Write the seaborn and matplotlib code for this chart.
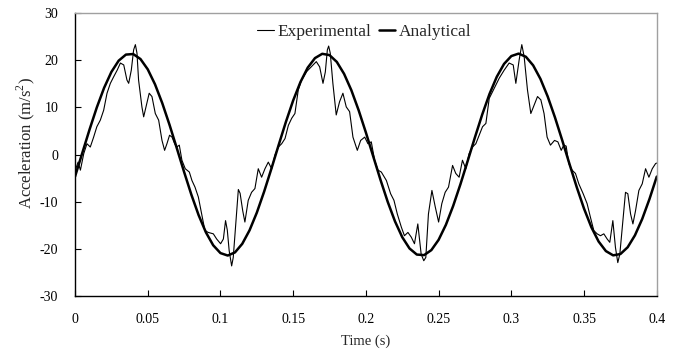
import matplotlib
matplotlib.use("Agg")
import matplotlib.pyplot as plt
import seaborn as sns
import pandas as pd

# Experimental signal
exp_t = [0.0000, 0.0021, 0.0037, 0.0060, 0.0082, 0.0105, 0.0128, 0.0150, 0.0174, 0.0197,
         0.0220, 0.0243, 0.0266, 0.0290, 0.0312, 0.0335, 0.0357, 0.0369, 0.0387, 0.0403,
         0.0415, 0.0426, 0.0437, 0.0460, 0.0472, 0.0488, 0.0510, 0.0529, 0.0552, 0.0575,
         0.0598, 0.0616, 0.0632, 0.0650, 0.0667, 0.0685, 0.0700, 0.0717, 0.0735, 0.0758,
         0.0786, 0.0804, 0.0825, 0.0848, 0.0871, 0.0893, 0.0916, 0.0951, 0.0974, 0.1001,
         0.1020, 0.1035, 0.1047, 0.1060, 0.1077, 0.1088, 0.1107, 0.1123, 0.1135, 0.1153,
         0.1168, 0.1191, 0.1214, 0.1237, 0.1260, 0.1283, 0.1306, 0.1329, 0.1352, 0.1375,
         0.1398, 0.1421, 0.1444, 0.1467, 0.1490, 0.1512, 0.1535, 0.1558, 0.1593, 0.1624,
         0.1659, 0.1682, 0.1705, 0.1721, 0.1735, 0.1744, 0.1755, 0.1773, 0.1796, 0.1819,
         0.1842, 0.1865, 0.1888, 0.1911, 0.1941, 0.1964, 0.1992, 0.2014, 0.2037, 0.2060,
         0.2083, 0.2106, 0.2141, 0.2170, 0.2193, 0.2216, 0.2244, 0.2265, 0.2289, 0.2312,
         0.2334, 0.2357, 0.2380, 0.2398, 0.2412, 0.2430, 0.2454, 0.2477, 0.2500, 0.2522,
         0.2545, 0.2568, 0.2596, 0.2618, 0.2641, 0.2664, 0.2687, 0.2710, 0.2733, 0.2756,
         0.2779, 0.2802, 0.2825, 0.2848, 0.2882, 0.2917, 0.2951, 0.2985, 0.3013, 0.3031,
         0.3054, 0.3072, 0.3088, 0.3111, 0.3134, 0.3157, 0.3180, 0.3203, 0.3225, 0.3246,
         0.3269, 0.3297, 0.3320, 0.3343, 0.3361, 0.3377, 0.3395, 0.3418, 0.3441, 0.3464,
         0.3494, 0.3521, 0.3544, 0.3567, 0.3590, 0.3613, 0.3636, 0.3659, 0.3677, 0.3698,
         0.3716, 0.3732, 0.3746, 0.3767, 0.3785, 0.3801, 0.3820, 0.3836, 0.3854, 0.3877,
         0.3900, 0.3923, 0.3946, 0.3969, 0.3992, 0.4000]
exp_a = [-3.5, -1.6, -3.3, 0.2, 2.3, 1.6, 3.7, 5.9, 7.3, 9.4,
         13.0, 15.1, 16.5, 17.9, 19.4, 19.0, 15.8, 15.1, 17.9, 22.2,
         23.3, 21.5, 15.8, 10.1, 8.0, 10.1, 13.0, 12.3, 8.7, 7.3,
         3.0, 0.9, 2.3, 4.1, 3.7, 2.3, 1.6, 2.0, -1.2, -3.0,
         -3.7, -5.5, -6.9, -9.0, -12.6, -16.1, -16.5, -16.8, -17.9, -18.9,
         -17.9, -14.0, -16.0, -20.4, -23.6, -21.8, -14.0, -7.4, -8.2, -11.9,
         -14.3, -9.7, -8.0, -7.2, -3.0, -4.8, -3.0, -1.6, -3.0, -0.1,
         1.6, 2.3, 3.4, 6.2, 7.7, 8.7, 13.7, 15.8, 17.6, 18.6,
         19.7, 18.6, 15.1, 17.5, 22.2, 23.0, 21.5, 15.1, 8.4, 11.2,
         13.0, 10.1, 9.1, 3.7, 0.9, 3.0, 3.7, 2.3, 2.7, -1.2,
         -3.3, -3.7, -5.5, -8.3, -9.7, -12.6, -15.4, -17.2, -16.5, -17.5,
         -18.9, -14.7, -21.1, -22.5, -21.8, -12.6, -7.6, -11.1, -14.3, -10.4,
         -8.0, -6.9, -2.3, -4.0, -4.8, -1.2, -3.0, 0.2, 1.6, 2.3,
         4.1, 5.9, 6.6, 11.9, 14.0, 16.2, 17.9, 19.4, 19.0, 15.1,
         20.1, 23.3, 20.8, 13.7, 8.7, 10.5, 12.3, 11.6, 8.7, 3.7,
         2.0, 3.0, 2.7, 0.9, 2.0, 1.8, -1.9, -3.3, -4.0, -6.2,
         -8.3, -10.4, -13.3, -16.1, -16.8, -17.2, -16.8, -17.9, -18.6, -14.0,
         -19.7, -22.9, -21.1, -14.0, -8.0, -8.3, -12.6, -14.7, -11.9, -7.6,
         -6.2, -3.0, -4.8, -3.0, -1.9, -1.8]

ana_t = [round(0.005 * i, 3) for i in range(81)]
ana_a = [-4.67, 0.34, 5.32, 10.01, 14.15, 17.51, 19.90, 21.19, 21.31, 20.25,
         18.07, 14.89, 10.89, 6.29, 1.34, -3.68, -8.50, -12.85, -16.49, -19.22,
         -20.88, -21.40, -20.73, -18.91, -16.05, -12.31, -7.88, -3.02, 2.01, 6.93,
         11.47, 15.37, 18.42, 20.45, 21.36, 21.08, 19.64, 17.11, 13.64, 9.41,
         4.67, -0.34, -5.32, -10.01, -14.15, -17.51, -19.90, -21.19, -21.31, -20.25,
         -18.07, -14.89, -10.89, -6.29, -1.34, 3.68, 8.50, 12.85, 16.49, 19.22,
         20.88, 21.40, 20.73, 18.91, 16.05, 12.31, 7.88, 3.02, -2.01, -6.93,
         -11.47, -15.37, -18.42, -20.45, -21.36, -21.08, -19.64, -17.11, -13.64, -9.41,
         -4.67]

x_ticks = [0, 0.05, 0.1, 0.15, 0.2, 0.25, 0.3, 0.35, 0.4]
x_tick_labels = ["0", "0.05", "0.1", "0.15", "0.2", "0.25", "0.3", "0.35", "0.4"]
y_ticks = [-30, -20, -10, 0, 10, 20, 30]
y_tick_labels = ["-30", "-20", "-10", "0", "10", "20", "30"]

sns.set_style("ticks")
plt.rcParams["font.family"] = ["Liberation Serif", "DejaVu Serif"]
plt.rcParams["mathtext.fontset"] = "custom"
plt.rcParams["mathtext.rm"] = "Liberation Serif"

fig = plt.figure(figsize=(6.82, 3.62), dpi=100)
ax = fig.add_axes([0.110, 0.182, 0.853, 0.782])

df_exp = pd.DataFrame({"t": exp_t, "a": exp_a})
df_ana = pd.DataFrame({"t": ana_t, "a": ana_a})
sns.lineplot(data=df_exp, x="t", y="a", ax=ax, color="black", linewidth=0.8,
             label="Experimental", sort=False, estimator=None)
sns.lineplot(data=df_ana, x="t", y="a", ax=ax, color="black", linewidth=1.8,
             label="Analytical", sort=False, estimator=None)

ax.set_xlim(0, 0.4)
ax.set_ylim(-30, 30)
ax.set_xticks(x_ticks)
ax.set_xticklabels(x_tick_labels)
ax.set_yticks(y_ticks)
ax.set_yticklabels(y_tick_labels)
ax.tick_params(axis="both", direction="in", length=4, width=0.8, labelsize=10,
               colors="black")
ax.tick_params(axis="x", pad=12)
ax.tick_params(axis="y", pad=12)
ax.set_xlabel("Time (s)", fontsize=10.5)
ax.set_ylabel("Acceleration (m/s$^2$)", fontsize=12)
ax.xaxis.set_label_coords(0.5, -0.135)
ax.yaxis.set_label_coords(-0.066, 0.54)

for s in ["left", "bottom"]:
    ax.spines[s].set_color("black")
    ax.spines[s].set_linewidth(1.0)
for s in ["top", "right"]:
    ax.spines[s].set_visible(True)
    ax.spines[s].set_color("#a0a0a0")
    ax.spines[s].set_linewidth(1.0)

ax.legend(loc="upper center", bbox_to_anchor=(0.497, 1.0), ncol=2, frameon=False,
          fontsize=12.5, handlelength=0.95, handletextpad=0.2, columnspacing=0.45,
          borderaxespad=0.25)

fig.savefig("out.png", dpi=100)
